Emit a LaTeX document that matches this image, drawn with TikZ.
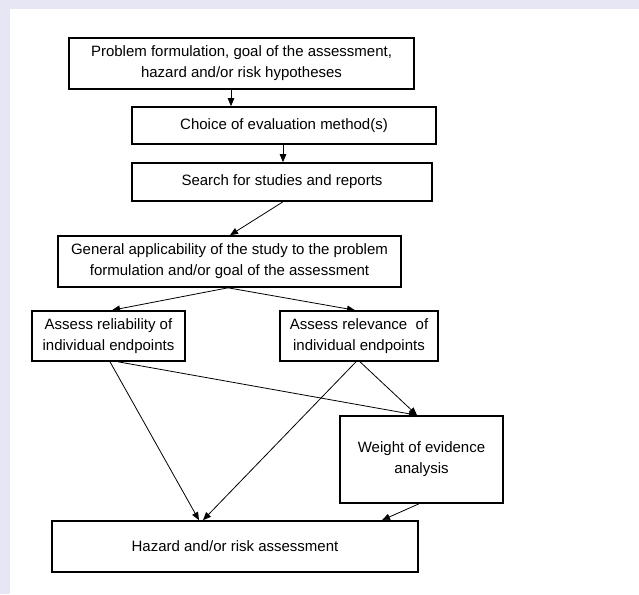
\documentclass[tikz,border=0pt]{standalone}
\usepackage{fontspec}
\setmainfont{Liberation Sans}
\usetikzlibrary{arrows.meta}
\definecolor{frame}{RGB}{230,230,245}
\begin{document}
\begin{tikzpicture}[x=1pt,y=-1pt,
  box/.style={draw,line width=1.6pt,align=center,inner sep=0pt,
    font=\fontsize{15}{21}\selectfont},
  conn/.style={line width=0.8pt,-{Triangle[length=8pt,width=6.5pt]}}]
\useasboundingbox (0,0) rectangle (639,594);
\fill[frame] (0,0) rectangle (639,594);
\fill[white] (10,9) rectangle (639,594);
\node[box,minimum width=345pt,minimum height=51pt] (b1) at (241.5,63.5)
  {Problem formulation, goal of the assessment,\\hazard and/or risk hypotheses};
\node[box,minimum width=304pt,minimum height=37pt] (b2) at (284,125.5)
  {Choice of evaluation method(s)};
\node[box,minimum width=300pt,minimum height=38pt] (b3) at (282,182)
  {Search for studies and reports};
\node[box,minimum width=343pt,minimum height=51pt] (b4) at (229.5,261.5)
  {General applicability of the study to the problem\\formulation and/or goal of the assessment};
\node[box,minimum width=153pt,minimum height=50pt] (b5) at (108.5,336)
  {Assess reliability of\\individual endpoints};
\node[box,minimum width=158pt,minimum height=50pt] (b6) at (359,336)
  {Assess relevance\ \ of\\individual endpoints};
\node[box,minimum width=163pt,minimum height=87pt] (w) at (421.5,459.5)
  {Weight of evidence\\analysis};
\node[box,minimum width=366pt,minimum height=51pt] (h) at (235,546.5)
  {Hazard and/or risk assessment};
\draw[conn] ([xshift=-10.5pt]b1.south) -- ([xshift=-53pt]b2.north);
\draw[conn] ([xshift=-1pt]b2.south) -- ([xshift=1pt]b3.north);
\draw[conn] ([xshift=1pt]b3.south) -- ([xshift=0.5pt]b4.north);
\draw[conn] ([xshift=-1.5pt]b4.south) -- ([xshift=3.5pt]b5.north);
\draw[conn] ([xshift=-1.5pt]b4.south) -- ([xshift=-4pt]b6.north);
\draw[conn] ([xshift=9.5pt]b5.south) -- ([xshift=-4.5pt]w.north);
\draw[conn] ([xshift=1.5pt]b5.south) -- ([xshift=-36pt]h.north);
\draw[conn] ([xshift=-3pt]b6.south) -- ([xshift=-32pt]h.north);
\draw[conn] ([xshift=1pt]b6.south) -- ([xshift=-4.5pt]w.north);
\draw[conn] ([xshift=-2.5pt]w.south) -- ([xshift=147pt]h.north);
\end{tikzpicture}
\end{document}
